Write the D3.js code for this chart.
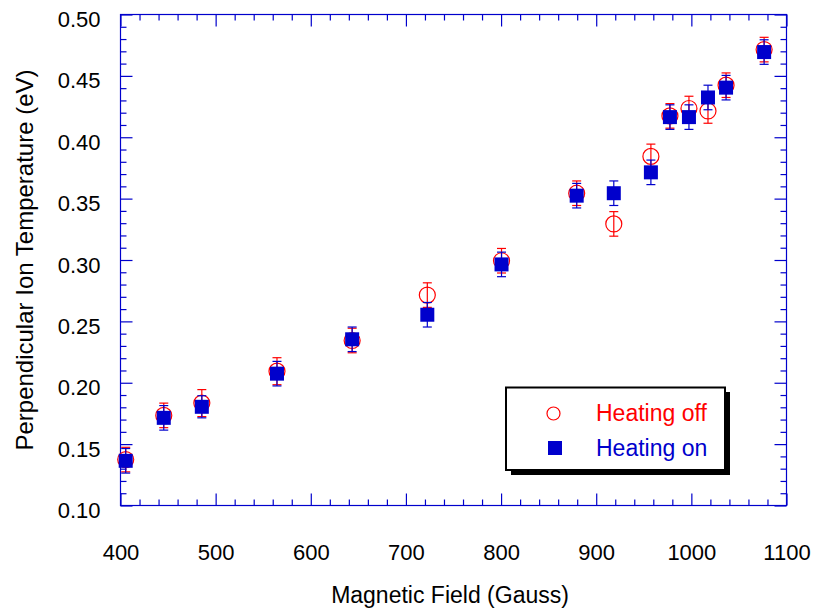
<!DOCTYPE html>
<html>
<head>
<meta charset="utf-8">
<script src="https://cdn.jsdelivr.net/npm/d3@7/dist/d3.min.js"></script>
<style>
  html, body { margin: 0; padding: 0; background: #fff; }
  svg { display: block; font-family: "Liberation Sans", Arial, Helvetica, sans-serif; }
</style>
</head>
<body>
<svg id="chart" width="814" height="608"></svg>
<script>
// Magnetic field values (Gauss)
const fieldGauss = [406, 446, 486, 565, 644, 723, 801, 880, 919, 958, 978, 998, 1018, 1037, 1077];
// Perpendicular ion temperature (eV), RF heating off
const tempHeatingOff = [0.137, 0.173, 0.183, 0.209, 0.234, 0.271, 0.299, 0.354, 0.329, 0.384, 0.417, 0.423, 0.421, 0.442, 0.471];
const errHeatingOff  = [0.010, 0.010, 0.011, 0.011, 0.010, 0.010, 0.010, 0.010, 0.010, 0.010, 0.010, 0.010, 0.010, 0.010, 0.010];
// Perpendicular ion temperature (eV), RF heating on
const tempHeatingOn  = [0.136, 0.171, 0.180, 0.207, 0.235, 0.255, 0.296, 0.352, 0.354, 0.371, 0.416, 0.416, 0.432, 0.440, 0.469];
const errHeatingOn   = [0.010, 0.010, 0.009, 0.010, 0.010, 0.010, 0.010, 0.010, 0.010, 0.010, 0.010, 0.010, 0.010, 0.010, 0.010];

const xTickLabels = [400, 500, 600, 700, 800, 900, 1000, 1100];
const yTickLabels = ["0.10", "0.15", "0.20", "0.25", "0.30", "0.35", "0.40", "0.45", "0.50"];
const seriesNames = ["Heating off", "Heating on"];

const axisColor = "#0000cc";
const offColor = "#ff0000";
const onColor = "#0000cc";

const svg = d3.select("#chart");
const plotL = 120, plotR = 786, plotT = 14, plotB = 505;

const x = d3.scaleLinear().domain([400, 1100]).range([plotL, plotR]);
const y = d3.scaleLinear().domain([0.10, 0.50]).range([plotB, plotT]);

const majorX = xTickLabels;
const minorX = d3.range(400, 1100.1, 20).filter(v => v % 100 !== 0);
const majorY = yTickLabels.map(Number);
const minorY = d3.range(10, 50.1, 1).map(v => v / 100).filter(v => Math.round(v * 100) % 5 !== 0);

const frame = svg.append("g");

// plot frame
frame.append("rect")
  .attr("x", plotL + 0.5).attr("y", plotT + 0.5)
  .attr("width", plotR - plotL).attr("height", plotB - plotT)
  .attr("fill", "none").attr("stroke", axisColor).attr("stroke-width", 1.2);

function styleAxis(g) {
  g.select(".domain").remove();
  g.selectAll(".tick line").attr("stroke", axisColor).attr("stroke-width", 1.2);
}

// inward ticks on all four sides
function drawAxis(axisFn, scale, values, size, transform, labels) {
  const a = axisFn(scale).tickValues(values).tickSizeInner(-size).tickSizeOuter(0);
  if (!labels) a.tickFormat("");
  const g = frame.append("g").attr("transform", transform).call(a).call(styleAxis);
  if (!labels) g.selectAll("text").remove();
  return g;
}

const xb = drawAxis(d3.axisBottom, x, majorX, 12, `translate(0.5,${plotB + 0.5})`, true);
drawAxis(d3.axisBottom, x, minorX, 6, `translate(0.5,${plotB + 0.5})`, false);
drawAxis(d3.axisTop, x, majorX, 12, `translate(0.5,${plotT + 0.5})`, false);
drawAxis(d3.axisTop, x, minorX, 6, `translate(0.5,${plotT + 0.5})`, false);
const yl = drawAxis(d3.axisLeft, y, majorY, 12, `translate(${plotL + 0.5},0.5)`, true);
drawAxis(d3.axisLeft, y, minorY, 6, `translate(${plotL + 0.5},0.5)`, false);
drawAxis(d3.axisRight, y, majorY, 12, `translate(${plotR + 0.5},0.5)`, false);
drawAxis(d3.axisRight, y, minorY, 6, `translate(${plotR + 0.5},0.5)`, false);

xb.selectAll("text")
  .attr("fill", "#000").attr("font-size", 22)
  .attr("font-family", "'Liberation Sans', Arial, sans-serif")
  .attr("y", 0).attr("dy", 0)
  .attr("transform", "translate(0,54)")
  .text(d => d);

yl.selectAll("text")
  .attr("fill", "#000").attr("font-size", 22)
  .attr("font-family", "'Liberation Sans', Arial, sans-serif")
  .attr("x", 0).attr("dy", 0)
  .attr("text-anchor", "end")
  .attr("transform", "translate(-20,12)")
  .text((d, i) => yTickLabels[i]);

// axis titles
svg.append("text")
  .attr("x", 450).attr("y", 603)
  .attr("text-anchor", "middle").attr("font-size", 23).attr("fill", "#000")
  .text("Magnetic Field (Gauss)");

svg.append("text")
  .attr("transform", "translate(33,260) rotate(-90)")
  .attr("text-anchor", "middle").attr("font-size", 24).attr("fill", "#000")
  .text("Perpendicular Ion Temperature (eV)");

// data
const capHalf = 4.5;
function drawErrorBars(g, vals, errs, color) {
  const rows = fieldGauss.map((f, i) => ({ f, v: vals[i], e: errs[i] }));
  const eb = g.selectAll("g.eb").data(rows).join("g").attr("class", "eb")
    .attr("stroke", color).attr("stroke-width", 1.2);
  eb.append("line")
    .attr("x1", d => x(d.f)).attr("x2", d => x(d.f))
    .attr("y1", d => y(d.v - d.e)).attr("y2", d => y(d.v + d.e));
  eb.append("line")
    .attr("x1", d => x(d.f) - capHalf).attr("x2", d => x(d.f) + capHalf)
    .attr("y1", d => y(d.v + d.e)).attr("y2", d => y(d.v + d.e));
  eb.append("line")
    .attr("x1", d => x(d.f) - capHalf).attr("x2", d => x(d.f) + capHalf)
    .attr("y1", d => y(d.v - d.e)).attr("y2", d => y(d.v - d.e));
  return rows;
}

const gOff = svg.append("g");
const offRows = drawErrorBars(gOff, tempHeatingOff, errHeatingOff, offColor);
gOff.selectAll("circle").data(offRows).join("circle")
  .attr("cx", d => x(d.f)).attr("cy", d => y(d.v)).attr("r", 8)
  .attr("fill", "none").attr("stroke", offColor).attr("stroke-width", 1.2);

const gOn = svg.append("g");
const onRows = drawErrorBars(gOn, tempHeatingOn, errHeatingOn, onColor);
const sq = 14;
gOn.selectAll("rect").data(onRows).join("rect")
  .attr("x", d => x(d.f) - sq / 2).attr("y", d => y(d.v) - sq / 2)
  .attr("width", sq).attr("height", sq)
  .attr("fill", onColor);

// legend
const lg = svg.append("g");
lg.append("rect").attr("x", 511).attr("y", 392).attr("width", 219).attr("height", 83).attr("fill", "#000");
lg.append("rect").attr("x", 506).attr("y", 387.5).attr("width", 219).attr("height", 82.5)
  .attr("fill", "#fff").attr("stroke", "#000").attr("stroke-width", 2);
lg.append("circle").attr("cx", 553.5).attr("cy", 413.5).attr("r", 6.5)
  .attr("fill", "none").attr("stroke", offColor).attr("stroke-width", 1.2);
lg.append("rect").attr("x", 548).attr("y", 441).attr("width", 14).attr("height", 14).attr("fill", onColor);
lg.append("text").attr("x", 596).attr("y", 421).attr("font-size", 23).attr("fill", offColor).text(seriesNames[0]);
lg.append("text").attr("x", 596).attr("y", 456).attr("font-size", 23).attr("fill", onColor).text(seriesNames[1]);
</script>
</body>
</html>
